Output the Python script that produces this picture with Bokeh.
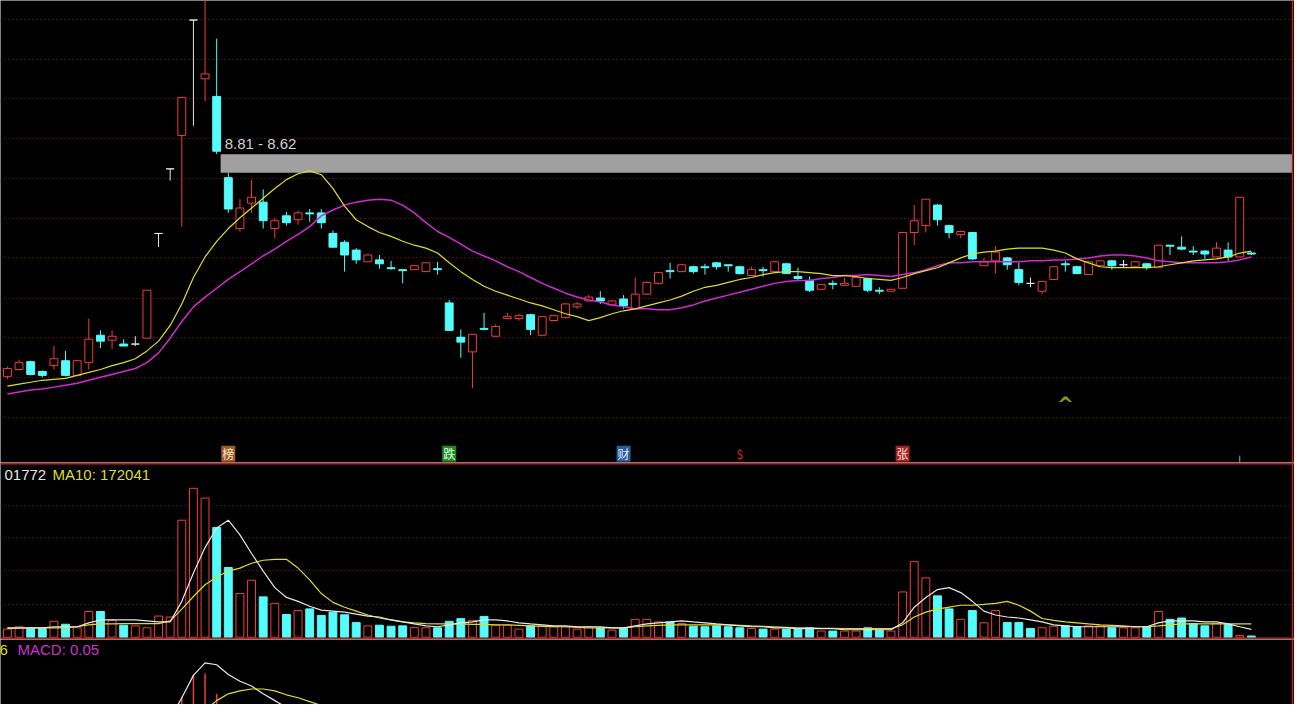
from bokeh.plotting import figure
from bokeh.layouts import column
from bokeh.models import Range1d, Span, Label, FixedTicker, Grid
from bokeh.embed import file_html
from bokeh.resources import INLINE
from bokeh.core.properties import value

# ---------------- data ----------------
open_price = [6.54, 6.61, 6.69, 6.59, 6.65, 6.70, 6.55, 6.68, 6.96, 6.91,
              6.87, 6.87, 6.93, 8.00, 8.66, 9.00, 10.18, 9.58, 9.40, 8.57,
              8.05, 8.31, 8.32, 8.05, 8.18, 8.14, 8.21, 8.21, 8.00, 7.91,
              7.83, 7.71, 7.73, 7.65, 7.63, 7.63, 7.61, 7.64, 7.29, 6.94,
              6.79, 7.03, 6.95, 7.13, 7.13, 7.17, 6.96, 7.11, 7.14, 7.25,
              7.31, 7.34, 7.27, 7.33, 7.23, 7.38, 7.49, 7.62, 7.61, 7.66,
              7.66, 7.70, 7.68, 7.66, 7.57, 7.63, 7.61, 7.69, 7.56, 7.52,
              7.43, 7.49, 7.47, 7.46, 7.54, 7.42, 7.41, 7.44, 8.01, 8.08,
              8.29, 8.08, 7.99, 8.01, 7.67, 7.72, 7.75, 7.63, 7.49, 7.41,
              7.53, 7.69, 7.66, 7.58, 7.67, 7.72, 7.68, 7.66, 7.69, 7.65,
              7.88, 7.86, 7.82, 7.82, 7.76, 7.83, 7.76, 7.80]
close_price = [6.62, 6.68, 6.56, 6.55, 6.72, 6.55, 6.70, 6.92, 6.90, 6.95,
               6.85, 6.87, 7.42, 8.00, 8.66, 9.39, 10.18, 9.63, 8.84, 8.25,
               8.26, 8.37, 8.13, 8.13, 8.11, 8.21, 8.20, 8.11, 7.86, 7.78,
               7.73, 7.78, 7.69, 7.64, 7.62, 7.67, 7.70, 7.63, 7.01, 6.89,
               6.97, 7.02, 7.05, 7.15, 7.16, 7.02, 7.15, 7.16, 7.28, 7.28,
               7.35, 7.31, 7.31, 7.26, 7.38, 7.50, 7.60, 7.61, 7.68, 7.61,
               7.65, 7.66, 7.67, 7.59, 7.63, 7.62, 7.71, 7.59, 7.54, 7.42,
               7.48, 7.48, 7.49, 7.55, 7.42, 7.41, 7.43, 8.01, 8.13, 8.35,
               8.14, 8.01, 8.02, 7.74, 7.71, 7.81, 7.68, 7.50, 7.49, 7.51,
               7.66, 7.68, 7.59, 7.71, 7.72, 7.67, 7.68, 7.71, 7.65, 7.88,
               7.87, 7.84, 7.81, 7.79, 7.85, 7.76, 8.37, 7.79]
high_price = [6.64, 6.71, 6.70, 6.60, 6.85, 6.80, 6.71, 7.13, 7.01, 7.01,
              6.92, 6.95, 7.42, 8.00, 8.66, 9.39, 10.18, 10.48, 9.99, 8.62,
              8.35, 8.55, 8.45, 8.16, 8.22, 8.23, 8.25, 8.25, 8.03, 7.93,
              7.85, 7.79, 7.78, 7.72, 7.63, 7.68, 7.70, 7.71, 7.32, 7.02,
              6.97, 7.19, 7.07, 7.19, 7.18, 7.18, 7.16, 7.17, 7.29, 7.30,
              7.37, 7.41, 7.32, 7.37, 7.55, 7.51, 7.61, 7.70, 7.69, 7.67,
              7.69, 7.71, 7.68, 7.67, 7.66, 7.66, 7.72, 7.70, 7.65, 7.56,
              7.48, 7.52, 7.55, 7.56, 7.55, 7.45, 7.43, 8.01, 8.29, 8.35,
              8.30, 8.09, 8.03, 8.01, 7.75, 7.87, 7.76, 7.70, 7.55, 7.51,
              7.66, 7.72, 7.67, 7.71, 7.73, 7.73, 7.73, 7.71, 7.70, 7.88,
              7.88, 7.97, 7.87, 7.83, 7.91, 7.91, 8.37, 7.81]
low_price = [6.51, 6.60, 6.55, 6.53, 6.61, 6.54, 6.54, 6.61, 6.83, 6.82,
             6.85, 6.85, 6.93, 7.86, 8.54, 8.07, 9.10, 9.35, 8.81, 8.21,
             8.02, 8.21, 8.05, 7.95, 8.08, 8.09, 8.12, 8.05, 7.85, 7.61,
             7.69, 7.71, 7.64, 7.63, 7.49, 7.63, 7.61, 7.58, 7.01, 6.73,
             6.42, 7.01, 6.94, 7.13, 7.11, 6.96, 6.96, 7.11, 7.13, 7.23,
             7.31, 7.28, 7.27, 7.23, 7.23, 7.37, 7.48, 7.54, 7.61, 7.59,
             7.58, 7.63, 7.61, 7.58, 7.57, 7.56, 7.61, 7.59, 7.52, 7.40,
             7.43, 7.43, 7.47, 7.46, 7.40, 7.38, 7.41, 7.44, 7.88, 8.01,
             8.08, 7.95, 7.95, 7.73, 7.67, 7.59, 7.63, 7.47, 7.45, 7.38,
             7.53, 7.61, 7.59, 7.58, 7.67, 7.63, 7.65, 7.66, 7.63, 7.65,
             7.78, 7.83, 7.78, 7.74, 7.76, 7.72, 7.76, 7.78]
ma10 = [6.44, 6.46, 6.48, 6.50, 6.51, 6.52, 6.55, 6.58, 6.61, 6.65,
        6.68, 6.72, 6.80, 6.90, 7.06, 7.28, 7.55, 7.76, 7.92, 8.05,
        8.16, 8.26, 8.36, 8.46, 8.55, 8.61, 8.64, 8.60, 8.46, 8.28,
        8.14, 8.07, 8.01, 7.97, 7.92, 7.88, 7.85, 7.80, 7.70, 7.61,
        7.53, 7.46, 7.41, 7.37, 7.33, 7.29, 7.26, 7.22, 7.18, 7.15,
        7.11, 7.14, 7.18, 7.21, 7.23, 7.26, 7.29, 7.32, 7.36, 7.41,
        7.45, 7.47, 7.50, 7.53, 7.55, 7.58, 7.60, 7.61, 7.61, 7.60,
        7.59, 7.57, 7.57, 7.56, 7.54, 7.53, 7.52, 7.55, 7.59, 7.62,
        7.65, 7.70, 7.75, 7.79, 7.81, 7.82, 7.84, 7.85, 7.85, 7.85,
        7.83, 7.80, 7.74, 7.70, 7.66, 7.65, 7.65, 7.65, 7.65, 7.66,
        7.68, 7.70, 7.72, 7.73, 7.74, 7.76, 7.80, 7.82]
ma20 = [6.36, 6.38, 6.40, 6.41, 6.43, 6.45, 6.47, 6.50, 6.53, 6.56,
        6.59, 6.62, 6.68, 6.78, 6.93, 7.10, 7.25, 7.35, 7.44, 7.53,
        7.61, 7.69, 7.77, 7.84, 7.92, 7.99, 8.07, 8.18, 8.24, 8.29,
        8.32, 8.34, 8.35, 8.34, 8.29, 8.21, 8.11, 8.02, 7.96, 7.89,
        7.82, 7.77, 7.72, 7.66, 7.61, 7.55, 7.49, 7.44, 7.39, 7.35,
        7.32, 7.30, 7.27, 7.25, 7.23, 7.23, 7.22, 7.22, 7.24, 7.27,
        7.31, 7.34, 7.37, 7.40, 7.43, 7.46, 7.49, 7.51, 7.52, 7.52,
        7.54, 7.55, 7.57, 7.57, 7.58, 7.57, 7.56, 7.58, 7.60, 7.63,
        7.67, 7.70, 7.70, 7.71, 7.71, 7.71, 7.71, 7.71, 7.72, 7.72,
        7.73, 7.73, 7.74, 7.75, 7.77, 7.78, 7.78, 7.77, 7.75, 7.72,
        7.71, 7.70, 7.70, 7.70, 7.70, 7.71, 7.73, 7.76]
volume = [104000, 134000, 112500, 112500, 204000, 166000, 121000, 329000, 329000, 216000,
          154000, 146000, 121000, 271000, 259000, 1496000, 1904000, 1779000, 1404000, 891000,
          559000, 729000, 516000, 434000, 291000, 341000, 362500, 279000, 321000, 287500,
          187500, 146000, 154000, 141000, 146000, 125000, 121000, 121000, 204000, 237500,
          216000, 266000, 154000, 154000, 104000, 146000, 146000, 134000, 134000, 104000,
          134000, 121000, 91000, 112500, 229000, 229000, 196000, 196000, 175000, 141000,
          134000, 146000, 134000, 121000, 112500, 104000, 104000, 104000, 104000, 121000,
          79000, 79000, 79000, 79000, 121000, 91000, 79000, 579000, 966000, 759000,
          529000, 362500, 229000, 341000, 184000, 341000, 187500, 187500, 112500, 121000,
          141000, 146000, 134000, 146000, 146000, 121000, 121000, 121000, 134000, 329000,
          229000, 246000, 175000, 146000, 175000, 162500, 21000, 16000]
vol_ma5 = [121000, 121000, 121000, 121000, 134000, 134000, 134000, 184000, 221000, 221000,
           221000, 221000, 209000, 196000, 196000, 459000, 821000, 1146000, 1396000, 1496000,
           1309000, 1071000, 846000, 634000, 509000, 459000, 396000, 346000, 334000, 321000,
           296000, 271000, 259000, 221000, 196000, 171000, 146000, 134000, 159000, 184000,
           196000, 221000, 221000, 209000, 184000, 171000, 159000, 146000, 146000, 134000,
           134000, 134000, 121000, 121000, 146000, 171000, 184000, 196000, 209000, 196000,
           184000, 171000, 159000, 146000, 134000, 134000, 121000, 121000, 109000, 109000,
           109000, 109000, 96000, 96000, 96000, 96000, 96000, 184000, 384000, 509000,
           609000, 634000, 571000, 459000, 334000, 284000, 259000, 246000, 221000, 196000,
           159000, 146000, 134000, 134000, 134000, 134000, 134000, 134000, 134000, 184000,
           209000, 209000, 209000, 196000, 196000, 171000, 134000, 101772]
vol_ma10 = [112500, 115000, 121000, 121000, 121000, 121000, 134000, 159000, 171000, 171000,
            175000, 175000, 175000, 175000, 209000, 359000, 521000, 671000, 771000, 846000,
            884000, 946000, 984000, 996000, 996000, 884000, 734000, 559000, 446000, 384000,
            334000, 284000, 246000, 221000, 196000, 184000, 175000, 171000, 171000, 171000,
            165000, 165000, 159000, 159000, 152500, 146000, 140000, 134000, 134000, 127500,
            121000, 121000, 121000, 121000, 134000, 146000, 152500, 159000, 159000, 159000,
            159000, 159000, 159000, 152500, 146000, 140000, 134000, 127500, 121000, 121000,
            115000, 115000, 109000, 109000, 109000, 109000, 109000, 159000, 259000, 321000,
            359000, 384000, 409000, 409000, 421000, 434000, 459000, 409000, 334000, 240000,
            215000, 196000, 184000, 171000, 159000, 152500, 146000, 134000, 134000, 146000,
            159000, 171000, 171000, 171000, 171000, 171000, 171000, 172041]
dif_index = [14, 15, 16, 17, 18, 19, 20, 21, 22, 23, 24, 25]
dif = [0.125, 0.235, 0.35, 0.415, 0.405, 0.355, 0.32, 0.295, 0.255, 0.22, 0.185, 0.15]
dea_index = [16, 17, 18, 19, 20, 21, 22, 23, 24, 25, 26, 27, 28]
dea = [0.10, 0.17, 0.22, 0.255, 0.27, 0.28, 0.28, 0.27, 0.25, 0.235, 0.215, 0.195, 0.175]
macd_index = [15, 16, 17, 18]
macd_hist = [0.24, 0.355, 0.36, 0.255]
gap_start_index = 18
gap_high = 8.81
gap_low = 8.62
event_index = [19, 38, 53, 63, 77]
event_text = ["榜", "跌", "财", "$", "张"]
signal_index = [91]
signal_price = [6.31]
current_index = 106
price_grid = [10.19, 9.78, 9.38, 8.97, 8.56, 8.15, 7.75, 7.34, 6.94, 6.53, 6.12]
volume_grid = [425000, 850000, 1270000, 1685000]
vol_header_cut = "01772"
macd_header_cut = "6"
macd_value = 0.05

# ---------------- style ----------------
BG = "#000000"
UP = "#f03c3c"
DOWN = "#54fcfc"
FLAT = "#e6e6e6"
GRID_C = "#8a1c1c"
SEP = "#c41e1e"
YEL = "#dede22"
MAG = "#d22ad2"
WHITE = "#e6e6e6"
BAND = "#a0a0a0"
event_bg = ["#9c5c2a", "#1f8a24", "#2a5c9c", BG, "#a82020"]
event_fg = ["#f8e6c8", "#e6ffe6", "#dce8ff", "#e82020", "#ffe6e6"]

W = 1294
X0, X1 = -0.595, 110.71
XB = 110.54
BODY_W = 0.68

n = len(close_price)
idx = list(range(n))

ccol = []
for o, c in zip(open_price, close_price):
    ccol.append(UP if c > o else (DOWN if c < o else FLAT))
cfill = [BG if col == UP else col for col in ccol]
btop = [max(o, c) for o, c in zip(open_price, close_price)]
bbot = [min(o, c) for o, c in zip(open_price, close_price)]

vcol = []
for i in range(n):
    o, c = open_price[i], close_price[i]
    if c > o:
        vcol.append(UP)
    elif c < o:
        vcol.append(DOWN)
    else:
        prev = close_price[i - 1] if i > 0 else c
        vcol.append(UP if c >= prev else DOWN)
vfill = [BG if col == UP else col for col in vcol]

xr = Range1d(X0, X1)


def panel(h, y0, y1):
    p = figure(width=W, height=h, x_range=xr, y_range=Range1d(y0, y1),
               x_axis_type=None, y_axis_type=None, output_backend="svg",
               toolbar_location=None, min_border=0,
               background_fill_color=BG, border_fill_color=BG)
    p.outline_line_color = None
    p.add_layout(Span(location=XB, dimension="height", line_color=SEP, line_width=1.5))
    return p


# ---------------- price panel ----------------
p1 = panel(462, 5.66, 10.38)
p1.add_layout(Grid(dimension=1, ticker=FixedTicker(ticks=price_grid),
                   grid_line_color=GRID_C, grid_line_dash="1 3", grid_line_width=1))
p1.quad(left=[gap_start_index + BODY_W / 2], right=[XB], top=[gap_high], bottom=[gap_low],
        fill_color=BAND, line_color=None)
p1.add_layout(Label(x=gap_start_index + BODY_W / 2, y=gap_high, x_offset=4, y_offset=11,
                    text=f"{gap_high:.2f} - {gap_low:.2f}", text_color="#d2d2d2",
                    text_font="Liberation Sans", text_font_size="15px",
                    text_baseline="alphabetic"))
p1.segment(x0=idx, y0=low_price, x1=idx, y1=high_price, line_color=ccol, line_width=1)
p1.vbar(x=idx, width=BODY_W, top=btop, bottom=bbot, fill_color=cfill,
        line_color=ccol, line_width=1)
p1.line(idx, ma20, line_color=MAG, line_width=1.5)
p1.line(idx, ma10, line_color=YEL, line_width=1.2)

EVENT_Y = 5.75
p1.rect(x=event_index, y=[EVENT_Y] * len(event_index), width=14, height=16,
        width_units="screen", height_units="screen", fill_color=event_bg, line_color=None)
p1.text(x=event_index, y=[EVENT_Y] * len(event_index), text=event_text,
        text_color=event_fg, text_font=value("Noto Sans CJK SC"), text_font_size="12px",
        text_align="center", text_baseline="middle")
p1.segment(x0=[current_index], y0=[5.665], x1=[current_index], y1=[5.73],
           line_color="#a8a488", line_width=1)
p1.text(x=signal_index, y=signal_price, text=["^"], text_color="#9a9a12",
        text_font=value("DejaVu Sans"), text_font_style="bold", text_font_size="20px",
        text_align="center", text_baseline="middle", y_offset=5)

# ---------------- volume panel ----------------
p2 = panel(177, -28750, 2233750)
p2.add_layout(Grid(dimension=1, ticker=FixedTicker(ticks=volume_grid),
                   grid_line_color=GRID_C, grid_line_dash="1 3", grid_line_width=1))
p2.add_layout(Span(location=2217500, dimension="width", line_color=SEP, line_width=1.5))
p2.add_layout(Span(location=-12500, dimension="width", line_color=SEP, line_width=1.5))
p2.vbar(x=idx, width=BODY_W, top=volume, bottom=0, fill_color=vfill,
        line_color=vcol, line_width=1)
p2.line(idx, vol_ma10, line_color=YEL, line_width=1.2)
p2.line(idx, vol_ma5, line_color=WHITE, line_width=1.2)
p2.add_layout(Label(x=4, y=165, x_units="screen", y_units="screen", text=vol_header_cut,
                    text_color=WHITE, text_font="Liberation Sans", text_font_size="15px",
                    text_baseline="middle"))
p2.add_layout(Label(x=52, y=165, x_units="screen", y_units="screen",
                    text=f"MA10: {vol_ma10[-1]}", text_color=YEL,
                    text_font="Liberation Sans", text_font_size="15px",
                    text_baseline="middle"))

# ---------------- MACD panel ----------------
p3 = panel(65, 0.2, 0.535)
p3.segment(x0=macd_index, y0=[0] * len(macd_index), x1=macd_index, y1=macd_hist,
           line_color=UP, line_width=1.5)
p3.line(dif_index, dif, line_color=WHITE, line_width=1.2)
p3.line(dea_index, dea, line_color=YEL, line_width=1.2)
p3.add_layout(Label(x=-1, y=55, x_units="screen", y_units="screen", text=macd_header_cut,
                    text_color=YEL, text_font="Liberation Sans", text_font_size="15px",
                    text_baseline="middle"))
p3.add_layout(Label(x=17, y=55, x_units="screen", y_units="screen",
                    text=f"MACD: {macd_value:.2f}", text_color="#d030d0",
                    text_font="Liberation Sans", text_font_size="15px",
                    text_baseline="middle"))

layout = column(p1, p2, p3)
open("out.html", "w").write(file_html(layout, INLINE, title="K线"))
